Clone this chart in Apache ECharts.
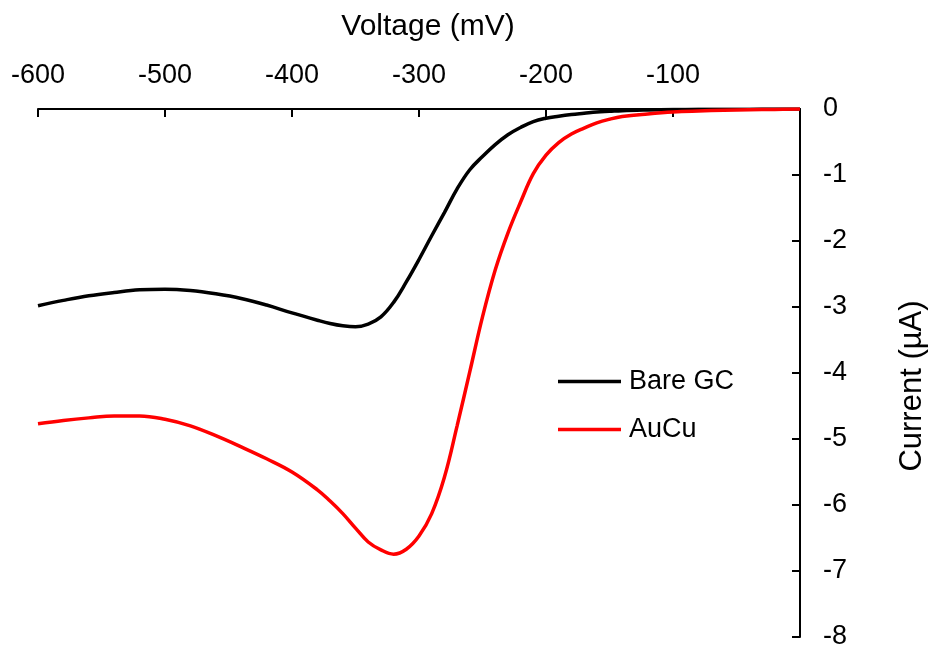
<!DOCTYPE html>
<html>
<head>
<meta charset="utf-8">
<script src="https://cdn.jsdelivr.net/npm/echarts@6/dist/echarts.min.js"></script>
<style>
  html, body { margin: 0; padding: 0; background: #fff; overflow: hidden; }
  #chart { width: 929px; height: 646px; }
</style>
</head>
<body>
<div id="chart"></div>
<script>
// Linear sweep voltammograms: potential (mV) vs current (µA)
const voltage = [-600, -580, -560, -540, -520, -500, -480, -460, -440, -420, -400,
  -380, -370, -360, -350, -340, -330, -320, -310, -300, -290, -280, -270, -260,
  -250, -240, -230, -220, -210, -200, -190, -180, -170, -160, -150, -140, -120,
  -100, -80, -60, -40, -20, 0];

const bareGC = [-2.98, -2.90, -2.83, -2.78, -2.74, -2.73, -2.75, -2.80, -2.87, -2.97, -3.09,
  -3.20, -3.25, -3.285, -3.30, -3.26, -3.15, -2.93, -2.62, -2.28, -1.92, -1.57, -1.21, -0.92,
  -0.72, -0.54, -0.39, -0.28, -0.19, -0.14, -0.11, -0.085, -0.065, -0.045, -0.035, -0.025, -0.015,
  -0.008, -0.005, -0.003, -0.002, -0.001, 0];

const auCu = [-4.77, -4.72, -4.68, -4.65, -4.65, -4.70, -4.80, -4.95, -5.12, -5.30, -5.50,
  -5.77, -5.94, -6.13, -6.35, -6.56, -6.68, -6.745, -6.67, -6.47, -6.13, -5.58, -4.80, -3.98,
  -3.15, -2.44, -1.88, -1.41, -0.98, -0.70, -0.51, -0.38, -0.29, -0.21, -0.155, -0.115, -0.075,
  -0.045, -0.03, -0.02, -0.012, -0.006, 0];

const seriesNames = ['Bare GC', 'AuCu'];
const seriesColors = ['#000000', '#ff0000'];
const xTicks = { min: -600, max: 0, step: 100 };
const yTicks = { min: -8, max: 0, step: 1 };

const pairs = (ys) => voltage.map((v, i) => [v, ys[i]]);
const FONT = 'Liberation Sans, Arial, sans-serif';

const chart = echarts.init(document.getElementById('chart'), null, { renderer: 'canvas' });
chart.setOption({
  animation: false,
  backgroundColor: '#ffffff',
  textStyle: { fontFamily: FONT, color: '#000' },
  grid: {
    left: 38, right: 129, top: 109, bottom: 9,
    containLabel: false,
    outerBoundsMode: 'none'
  },
  legend: {
    orient: 'vertical',
    left: 553,
    top: 363,
    icon: 'rect',
    itemWidth: 63,
    itemHeight: 3.5,
    itemGap: 21,
    textStyle: { fontFamily: FONT, fontSize: 27, color: '#000', padding: [0, 0, 0, 3] },
    data: seriesNames
  },
  xAxis: {
    type: 'value',
    position: 'top',
    min: xTicks.min,
    max: xTicks.max,
    interval: xTicks.step,
    name: 'Voltage (mV)',
    nameLocation: 'middle',
    nameGap: 67,
    nameTextStyle: { fontFamily: FONT, fontSize: 30, color: '#000', padding: [0, 0, 0, 18] },
    axisLine: { show: true, onZero: false, lineStyle: { color: '#000', width: 2 } },
    axisTick: { show: true, inside: true, length: 8, lineStyle: { color: '#000', width: 2 } },
    axisLabel: {
      margin: 20,
      fontFamily: FONT,
      fontSize: 27,
      color: '#000',
      formatter: (v) => (v === 0 ? '' : String(v))
    },
    splitLine: { show: false }
  },
  yAxis: {
    type: 'value',
    position: 'right',
    min: yTicks.min,
    max: yTicks.max,
    interval: yTicks.step,
    name: 'Current (µA)',
    nameLocation: 'middle',
    nameGap: 97,
    nameTextStyle: { fontFamily: FONT, fontSize: 31, color: '#000', padding: [0, 26, 0, 0] },
    axisLine: { show: true, onZero: false, lineStyle: { color: '#000', width: 2 } },
    axisTick: { show: true, inside: true, length: 8, lineStyle: { color: '#000', width: 2 } },
    axisLabel: { margin: 23, fontFamily: FONT, fontSize: 27, color: '#000' },
    splitLine: { show: false }
  },
  series: [
    {
      name: seriesNames[0],
      type: 'line',
      data: pairs(bareGC),
      symbol: 'none',
      smooth: 0.4,
      lineStyle: { color: seriesColors[0], width: 3.5 },
      itemStyle: { color: seriesColors[0] },
      z: 3
    },
    {
      name: seriesNames[1],
      type: 'line',
      data: pairs(auCu),
      symbol: 'none',
      smooth: 0.4,
      lineStyle: { color: seriesColors[1], width: 3.5 },
      itemStyle: { color: seriesColors[1] },
      z: 4
    }
  ]
});
</script>
</body>
</html>
